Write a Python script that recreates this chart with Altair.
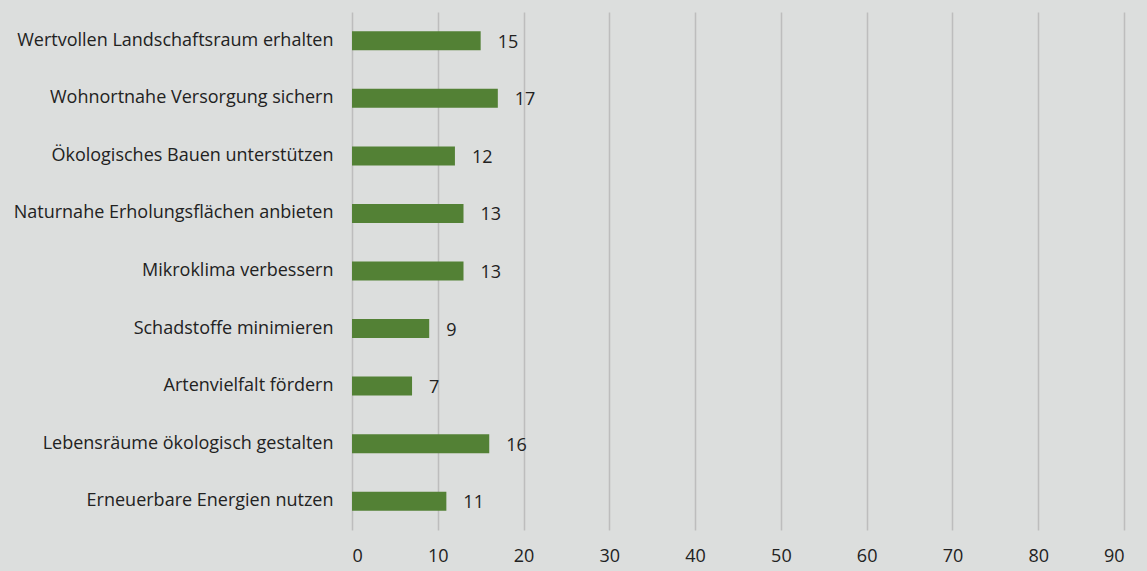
import altair as alt
import pandas as pd

categories = [
    "Wertvollen Landschaftsraum erhalten",
    "Wohnortnahe Versorgung sichern",
    "Ökologisches Bauen unterstützen",
    "Naturnahe Erholungsflächen anbieten",
    "Mikroklima verbessern",
    "Schadstoffe minimieren",
    "Artenvielfalt fördern",
    "Lebensräume ökologisch gestalten",
    "Erneuerbare Energien nutzen",
]
values = [15, 17, 12, 13, 13, 9, 7, 16, 11]
x_ticks = [0, 10, 20, 30, 40, 50, 60, 70, 80, 90]

df = pd.DataFrame({"cat": categories, "val": values})

FONT = "Open Sans"
FS = 18

y_enc = alt.Y("cat:N", sort=categories, title=None,
              scale=alt.Scale(paddingInner=0.67, paddingOuter=0.335),
              axis=alt.Axis(domain=False, ticks=False, grid=False,
                            labelFontSize=FS, labelColor="#222222",
                            labelFont=FONT, labelPadding=19, labelLimit=400))
x_enc = alt.X("val:Q", title=None,
              scale=alt.Scale(domain=[0, 90], nice=False),
              axis=alt.Axis(values=x_ticks, domain=False, ticks=False,
                            grid=True, gridColor="#bdbdbd", gridWidth=1.5,
                            labelFontSize=FS, labelColor="#222222",
                            labelFont=FONT, labelPadding=17))

bars = alt.Chart(df).mark_bar(color="#538135").encode(x=x_enc, y=y_enc)
labels = alt.Chart(df).mark_text(align="left", baseline="middle", dx=17, dy=2,
                                 fontSize=FS, font=FONT, color="#222222").encode(
    x="val:Q", y=alt.Y("cat:N", sort=categories), text="val:Q")

chart = (bars + labels).properties(
    width=772, height=518,
    background="#dcdedd",
    padding={"left": 352, "top": 12, "right": 23, "bottom": 41},
    autosize=alt.AutoSizeParams(type="none"),
).configure_view(stroke=None)

chart.save("out.html", embed_options={"renderer": "svg", "actions": False})
